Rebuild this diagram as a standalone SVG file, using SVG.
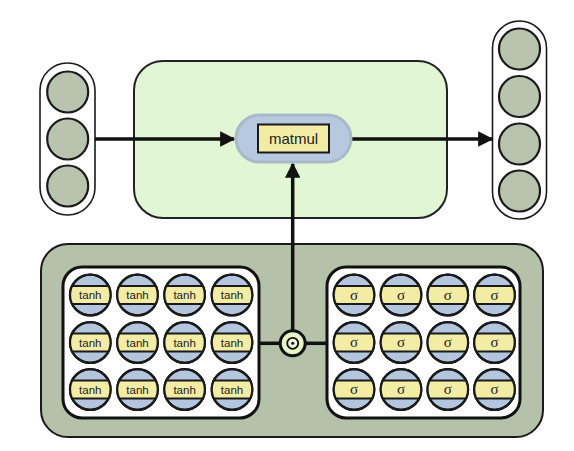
<svg xmlns="http://www.w3.org/2000/svg" width="574" height="451" viewBox="0 0 574 451">
<style>
.cap{fill:#ffffff;stroke:#1a1a1a;stroke-width:1.6}
.io{fill:#b9c3ae;stroke:#1a1a1a;stroke-width:2.2}
.cell{fill:#b3c6dd;stroke:#1a1a1a;stroke-width:2.2}
.band{fill:#f3eca5}
.bline{stroke:#1a1a1a;stroke-width:1.8}
.conn{stroke:#111;stroke-width:3.5;fill:none}
.lbl{font-family:"Liberation Sans",Arial,sans-serif;fill:#222;text-anchor:middle}
.sig{font-family:"Liberation Serif","Times New Roman",serif;fill:#222;text-anchor:middle}
</style>
<defs>
<marker id="ah" viewBox="0 0 10 10" refX="9" refY="5" markerWidth="5.2" markerHeight="4.4" markerUnits="strokeWidth" orient="auto">
<path d="M0,0 L10,5 L0,10 Z" fill="#111"/>
</marker>
<g id="cellbase">
<circle class="cell" r="20.3"/>
<path class="band" d="M-17.9,-9 L17.9,-9 A20.3,20.3 0 0 1 17.9,9 L-17.9,9 A20.3,20.3 0 0 1 -17.9,-9 Z"/>
<line class="bline" x1="-18.2" y1="-9" x2="18.2" y2="-9"/>
<line class="bline" x1="-18.2" y1="9" x2="18.2" y2="9"/>
<circle r="20.3" fill="none" stroke="#1a1a1a" stroke-width="2.2"/>
</g>
<g id="tanh"><use href="#cellbase"/><text class="lbl" y="4" font-size="11.5">tanh</text></g>
<g id="sigma"><use href="#cellbase"/><text class="sig" y="4.5" font-size="15">σ</text></g>
</defs>

<g id="input">
<rect class="cap" x="40" y="63" width="55" height="152" rx="27.5"/>
<circle class="io" cx="67.7" cy="92" r="20.5"/>
<circle class="io" cx="67.7" cy="139" r="20.5"/>
<circle class="io" cx="67.7" cy="186" r="20.5"/>
</g>

<g id="output">
<rect class="cap" x="492.5" y="21" width="54" height="198" rx="27"/>
<circle class="io" cx="519.5" cy="49" r="20.5"/>
<circle class="io" cx="519.5" cy="96.5" r="20.5"/>
<circle class="io" cx="519.5" cy="144" r="20.5"/>
<circle class="io" cx="519.5" cy="191" r="20.5"/>
</g>

<g id="layer">
<rect x="134" y="61" width="313" height="157" rx="29" fill="#e1f6d4" stroke="#222" stroke-width="2"/>
</g>

<g id="gate">
<rect x="41" y="244" width="502" height="193" rx="27" fill="#b5c1a9" stroke="#1a1a1a" stroke-width="2"/>
<rect x="63" y="267" width="196" height="151" rx="19" fill="#ffffff" stroke="#111" stroke-width="3"/>
<rect x="327" y="267" width="193" height="151" rx="19" fill="#ffffff" stroke="#111" stroke-width="3"/>
<use href="#tanh" x="90.3" y="295"/><use href="#tanh" x="137.5" y="295"/><use href="#tanh" x="184.6" y="295"/><use href="#tanh" x="232" y="295"/>
<use href="#tanh" x="90.3" y="342.5"/><use href="#tanh" x="137.5" y="342.5"/><use href="#tanh" x="184.6" y="342.5"/><use href="#tanh" x="232" y="342.5"/>
<use href="#tanh" x="90.3" y="389.5"/><use href="#tanh" x="137.5" y="389.5"/><use href="#tanh" x="184.6" y="389.5"/><use href="#tanh" x="232" y="389.5"/>
<use href="#sigma" x="354" y="295"/><use href="#sigma" x="401" y="295"/><use href="#sigma" x="447.8" y="295"/><use href="#sigma" x="494.5" y="295"/>
<use href="#sigma" x="354" y="342.5"/><use href="#sigma" x="401" y="342.5"/><use href="#sigma" x="447.8" y="342.5"/><use href="#sigma" x="494.5" y="342.5"/>
<use href="#sigma" x="354" y="389.5"/><use href="#sigma" x="401" y="389.5"/><use href="#sigma" x="447.8" y="389.5"/><use href="#sigma" x="494.5" y="389.5"/>
</g>

<g id="connectors">
<line class="conn" x1="95" y1="139" x2="234" y2="139" marker-end="url(#ah)"/>
<line class="conn" x1="352" y1="139" x2="492" y2="139" marker-end="url(#ah)"/>
<line class="conn" x1="292.7" y1="330" x2="292.7" y2="164" marker-end="url(#ah)"/>
<line class="conn" x1="259" y1="343.3" x2="280" y2="343.3"/>
<line class="conn" x1="306" y1="343.3" x2="327" y2="343.3"/>
</g>

<g id="matmul">
<rect x="236" y="115" width="115" height="47" rx="23.5" fill="#b6c9df" stroke="#a9b9c9" stroke-width="3"/>
<rect x="258" y="124.5" width="71" height="28" fill="#f3eca5" stroke="#1a1a1a" stroke-width="2"/>
<text class="lbl" x="293.5" y="144" font-size="15">matmul</text>
</g>

<g id="hadamard">
<circle cx="292.7" cy="343.3" r="12.5" fill="#e8f3c8" stroke="#111" stroke-width="3"/>
<circle cx="292.7" cy="343.3" r="5.5" fill="#f2f6de" stroke="#111" stroke-width="1.8"/>
<circle cx="292.7" cy="343.3" r="1.5" fill="#111"/>
</g>
</svg>
